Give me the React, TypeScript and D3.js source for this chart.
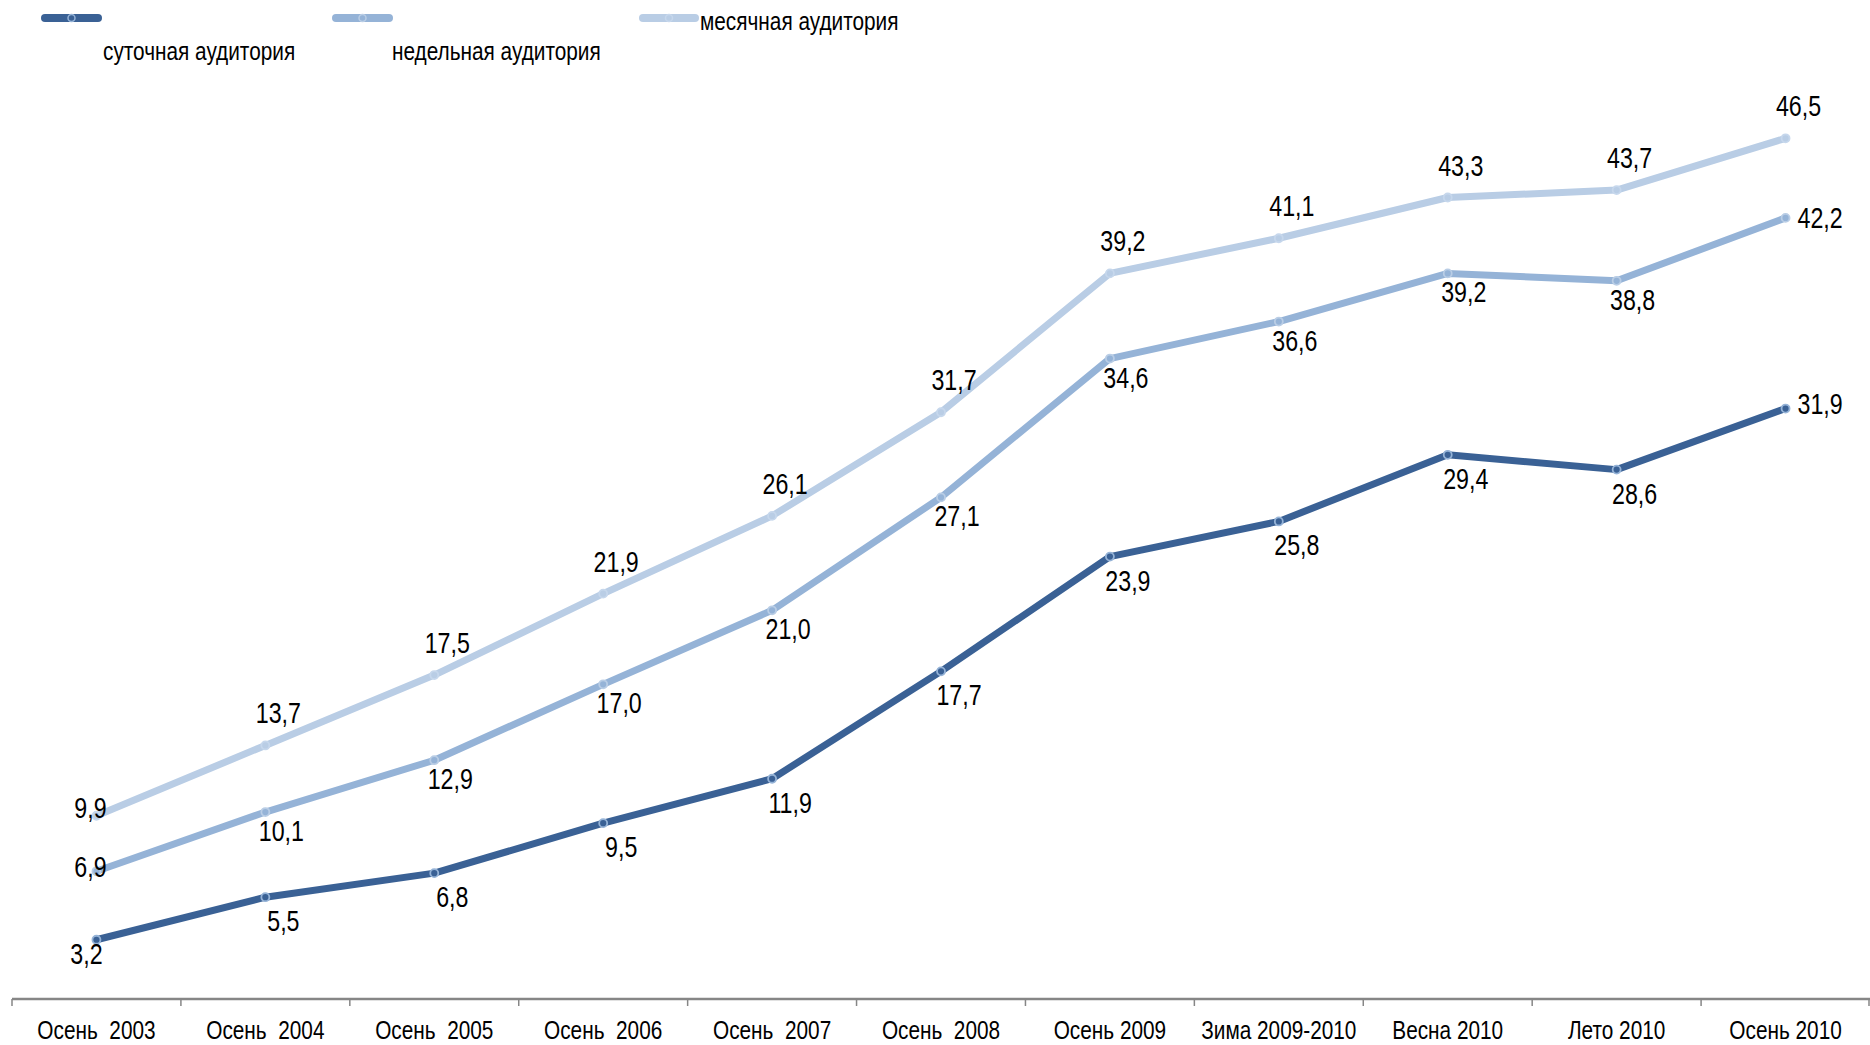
import React from "react";
import * as d3 from "d3";

const categories = [
  "Осень  2003",
  "Осень  2004",
  "Осень  2005",
  "Осень  2006",
  "Осень  2007",
  "Осень  2008",
  "Осень 2009",
  "Зима 2009-2010",
  "Весна 2010",
  "Лето 2010",
  "Осень 2010",
];

const dailyAudience = [3.2, 5.5, 6.8, 9.5, 11.9, 17.7, 23.9, 25.8, 29.4, 28.6, 31.9];
const weeklyAudience = [6.9, 10.1, 12.9, 17.0, 21.0, 27.1, 34.6, 36.6, 39.2, 38.8, 42.2];
const monthlyAudience = [9.9, 13.7, 17.5, 21.9, 26.1, 31.7, 39.2, 41.1, 43.3, 43.7, 46.5];

const seriesNames = ["суточная аудитория", "недельная аудитория", "месячная аудитория"];

const W = 1870;
const H = 1045;
const FONT = "'Liberation Sans', Arial, sans-serif";
const SX = 0.8;

type Placement = "above" | "below";

interface SeriesDef {
  name: string;
  values: number[];
  color: string;
  markerStroke: string;
  placement: Placement;
}

const series: SeriesDef[] = [
  { name: seriesNames[2], values: monthlyAudience, color: "#B9CDE5", markerStroke: "#C6D7EC", placement: "above" },
  { name: seriesNames[1], values: weeklyAudience, color: "#95B3D7", markerStroke: "#B9CDE5", placement: "below" },
  { name: seriesNames[0], values: dailyAudience, color: "#3A6195", markerStroke: "#95B3D7", placement: "below" },
];

const fmt = (v: number) => v.toFixed(1).replace(".", ",");

function CText(props: { x: number; y: number; size: number; anchor?: string; children: React.ReactNode }) {
  const { x, y, size, anchor = "start", children } = props;
  return (
    <text
      transform={`translate(${x},${y}) scale(${SX},1)`}
      textAnchor={anchor as any}
      fontSize={size}
      fill="#000"
      style={{ whiteSpace: "pre" }}
    >
      {children}
    </text>
  );
}

export default function App() {
  const x = d3.scaleBand<string>().domain(categories).range([12, W]).paddingInner(0).paddingOuter(0);
  const y = d3.scaleLinear().domain([0, 50]).range([999, 73.5]);
  const bw = x.bandwidth();
  const cx = (i: number) => (x(categories[i]) as number) + bw / 2;

  const line = d3
    .line<number>()
    .x((_, i) => cx(i))
    .y((d) => y(d));

  const n = categories.length;

  const labelPos = (s: SeriesDef, i: number) => {
    const px = cx(i);
    const py = y(s.values[i]);
    if (s.name === seriesNames[2]) {
      if (i === 0) return { x: px - 6, y: py + 2, anchor: "middle" };
      return { x: px + 13, y: py - 22, anchor: "middle" };
    }
    if (s.name === seriesNames[1]) {
      if (i === 0) return { x: px - 6, y: py + 6, anchor: "middle" };
      if (i === n - 1) return { x: px + 12, y: py + 10, anchor: "start" };
      return { x: px + 16, y: py + 29, anchor: "middle" };
    }
    if (i === 0) return { x: px - 10, y: py + 24, anchor: "middle" };
    if (i === n - 1) return { x: px + 12, y: py + 5, anchor: "start" };
    return { x: px + 18, y: py + 34, anchor: "middle" };
  };

  const legend = [
    { s: series[2], lx0: 45, lx1: 98, ly: 18, tx: 103, ty: 60 },
    { s: series[1], lx0: 336, lx1: 389, ly: 18, tx: 392, ty: 60 },
    { s: series[0], lx0: 643, lx1: 695, ly: 18, tx: 700, ty: 30 },
  ];

  const tickXs = [...categories.map((c) => x(c) as number), W - 1];

  return (
    <svg
      width={W}
      height={H}
      style={{ position: "absolute", left: 0, top: 0, background: "#fff", fontFamily: FONT }}
    >
      {/* legend */}
      {legend.map((l, k) => (
        <g key={k}>
          <line
            x1={l.lx0}
            x2={l.lx1}
            y1={l.ly}
            y2={l.ly}
            stroke={l.s.color}
            strokeWidth={8}
            strokeLinecap="round"
          />
          <circle cx={(l.lx0 + l.lx1) / 2} cy={l.ly} r={3.5} fill={l.s.color} stroke={l.s.markerStroke} strokeWidth={1.5} />
          <CText x={l.tx} y={l.ty} size={26}>
            {l.s.name}
          </CText>
        </g>
      ))}

      {/* axis */}
      <line x1={12} x2={W} y1={y(0)} y2={y(0)} stroke="#868686" strokeWidth={2.5} />
      {tickXs.map((tx, i) => (
        <line key={i} x1={tx} x2={tx} y1={y(0)} y2={y(0) + 7} stroke="#868686" strokeWidth={1.5} />
      ))}
      {categories.map((c, i) => (
        <CText key={c} x={cx(i)} y={1039} size={26} anchor="middle">
          {c}
        </CText>
      ))}

      {/* series */}
      {series.map((s) => (
        <g key={s.name}>
          <path d={line(s.values) || ""} fill="none" stroke={s.color} strokeWidth={7} strokeLinejoin="round" strokeLinecap="round" />
          {s.values.map((v, i) => (
            <circle key={i} cx={cx(i)} cy={y(v)} r={4} fill={s.color} stroke={s.markerStroke} strokeWidth={1.8} />
          ))}
        </g>
      ))}

      {/* labels */}
      {series.map((s) => (
        <g key={s.name + "-lbl"}>
          {s.values.map((v, i) => {
            const p = labelPos(s, i);
            return (
              <CText key={i} x={p.x} y={p.y} size={29} anchor={p.anchor}>
                {fmt(v)}
              </CText>
            );
          })}
        </g>
      ))}
    </svg>
  );
}
